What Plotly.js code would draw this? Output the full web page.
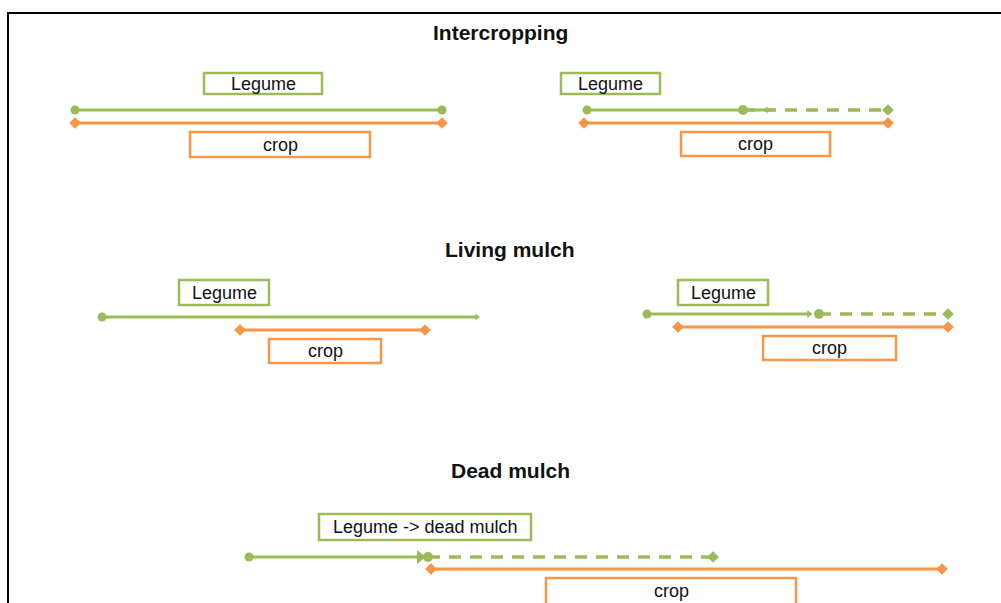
<!DOCTYPE html>
<html><head><meta charset="utf-8">
<script src="https://cdn.plot.ly/plotly-3.0.1.min.js"></script>
<style>html,body{margin:0;padding:0;background:#fff}#chart{width:1001px;height:603px}</style>
</head><body><div id="chart"></div>
<script>
// Section titles
const sectionTitles = ['Intercropping', 'Living mulch', 'Dead mulch'];
const sectionTitleX = [500, 510, 510];
const sectionTitleY = [32, 249, 470];

// Legume rows (timeline, diagram units)
const legumeY        = [110, 110, 317, 314, 557];
const legumeStart    = [75, 587, 102, 647, 249];
const legumeSolidEnd = [442, 768, 477, 809, 420];
const legumeEndSym   = ['circle', 'triangle-right', 'triangle-right', 'triangle-right', 'triangle-right'];
const legumeEndSize  = [9, 6, 6, 7, 12];
const legumeDashFrom = [null, 743, null, 819, 428];
const legumeDashEnd  = [null, 888, null, 948, 713];

// Crop rows
const cropY     = [123, 123, 330, 327, 569];
const cropStart = [75, 584, 240, 678, 431];
const cropEnd   = [442, 888, 425, 948, 942];

// Label boxes
const boxText = ['Legume', 'crop', 'Legume', 'crop', 'Legume', 'crop', 'Legume', 'crop', 'Legume -> dead mulch', 'crop'];
const boxKind = ['legume', 'crop', 'legume', 'crop', 'legume', 'crop', 'legume', 'crop', 'legume', 'crop'];
const boxX0 = [204, 190, 561, 681, 179, 269, 678, 763, 319, 546];
const boxX1 = [322, 370, 660, 830, 269, 381, 768, 896, 531, 796];
const boxY0 = [73, 132, 73, 132, 280, 339, 280, 336, 514, 578];
const boxY1 = [94, 157, 94, 156, 305, 363, 305, 360, 540, 620];

const GREEN = '#9bbb59';
const ORANGE = '#f79646';
const traces = [];

for (let i = 0; i < legumeY.length; i++) {
  if (legumeDashFrom[i] !== null) {
    traces.push({
      x: [legumeDashFrom[i], legumeDashEnd[i]], y: [legumeY[i], legumeY[i]],
      mode: 'lines+markers', line: {color: GREEN, width: 3.5, dash: '12px,9px'},
      marker: {color: GREEN, symbol: ['circle', 'diamond'], size: [10, 9], opacity: 1, line: {width: 0}},
      showlegend: false, hoverinfo: 'skip'
    });
  }
  traces.push({
    x: [legumeStart[i], legumeSolidEnd[i]], y: [legumeY[i], legumeY[i]],
    mode: 'lines+markers', line: {color: GREEN, width: 3},
    marker: {color: GREEN, symbol: ['circle', legumeEndSym[i]], size: [9, legumeEndSize[i]], opacity: 1, line: {width: 0}},
    showlegend: false, hoverinfo: 'skip'
  });
  traces.push({
    x: [cropStart[i], cropEnd[i]], y: [cropY[i], cropY[i]],
    mode: 'lines+markers', line: {color: ORANGE, width: 3},
    marker: {color: ORANGE, symbol: 'diamond', size: 9, opacity: 1, line: {width: 0}},
    showlegend: false, hoverinfo: 'skip'
  });
}

const shapes = [{
  type: 'rect', xref: 'x', yref: 'y', x0: 8, x1: 1020, y0: 13, y1: 620,
  line: {color: '#000', width: 2}, fillcolor: 'rgba(0,0,0,0)', layer: 'below'
}];
const annotations = [];
for (let i = 0; i < boxText.length; i++) {
  const c = boxKind[i] === 'legume' ? GREEN : ORANGE;
  shapes.push({type: 'rect', xref: 'x', yref: 'y', x0: boxX0[i], x1: boxX1[i], y0: boxY0[i], y1: boxY1[i],
    line: {color: c, width: 2.5}, fillcolor: '#fff', layer: 'above'});
  const yc = boxY1[i] > 603 ? 591 : (boxY0[i] + boxY1[i]) / 2;
  annotations.push({x: (boxX0[i] + boxX1[i]) / 2, y: yc, xref: 'x', yref: 'y', text: boxText[i],
    showarrow: false, font: {family: 'Liberation Sans, Arial, sans-serif', size: 18, color: '#111'}});
}
for (let i = 0; i < sectionTitles.length; i++) {
  annotations.push({x: sectionTitleX[i], y: sectionTitleY[i], xref: 'x', yref: 'y', text: '<b>' + sectionTitles[i] + '</b>',
    showarrow: false, font: {family: 'Liberation Sans, Arial, sans-serif', size: 21, color: '#111'}});
}

Plotly.newPlot('chart', traces, {
  width: 1001, height: 603, margin: {l: 0, r: 0, t: 0, b: 0},
  paper_bgcolor: '#fff', plot_bgcolor: '#fff',
  xaxis: {range: [0, 1001], visible: false, fixedrange: true},
  yaxis: {range: [603, 0], visible: false, fixedrange: true},
  shapes: shapes, annotations: annotations, showlegend: false
}, {displayModeBar: false, staticPlot: true});
</script></body></html>
